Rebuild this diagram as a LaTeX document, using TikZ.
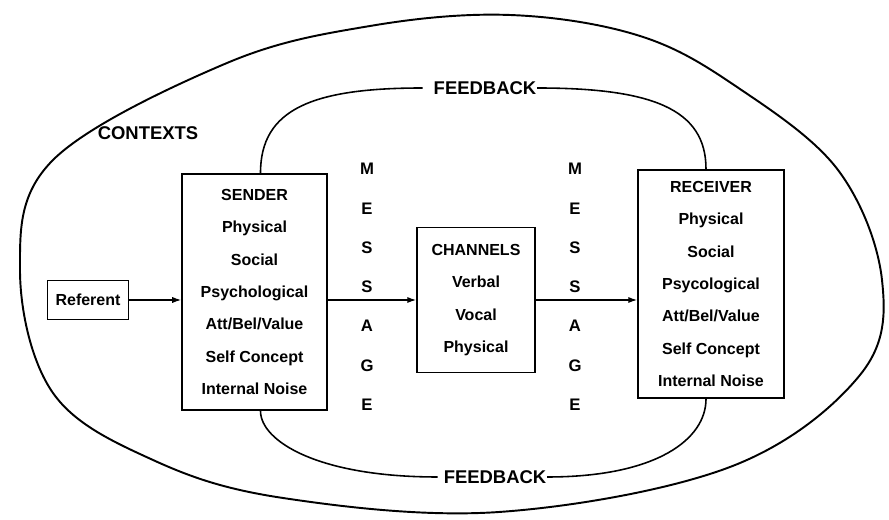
\documentclass[tikz,border=0pt]{standalone}
\usepackage{fontspec}
\setmainfont{Liberation Sans}
\usetikzlibrary{arrows.meta}

\begin{document}
\begin{tikzpicture}[
    box/.style={draw, line width=1.1pt, align=center, inner sep=0pt,
      font=\fontsize{9.1}{18.4}\selectfont\bfseries},
    loopline/.style={line width=0.9pt},
    flow/.style={line width=0.6pt, -{Latex[length=5pt,width=3.5pt]}},
    lbl/.style={font=\fontsize{10.5}{12}\selectfont\bfseries},
    letter/.style={font=\fontsize{9.5}{11}\selectfont\bfseries}]
  \useasboundingbox (0,0) rectangle (17.78,10.4);
  % contexts
  \draw[line width=1.1pt] plot[smooth cycle, tension=0.6] coordinates {
    (0.40,5.00) (1.06,2.54) (3.06,1.20) (5.66,0.44) (9.98,0.16)
    (14.60,1.06) (17.20,2.90) (17.64,4.80) (16.76,7.00) (14.74,8.66)
    (12.80,9.68) (10.20,10.10) (7.40,9.88) (4.54,9.14) (1.06,7.20)};
  \node[lbl] (contexts) at (2.96,7.74) {CONTEXTS};
  % boxes
  \node[box, minimum width=1.62cm, minimum height=0.78cm] (referent) at (1.76,4.40) {Referent};
  \node[box, minimum width=2.9cm, minimum height=4.72cm] (sender) at (5.09,4.56)
    {SENDER\\Physical\\Social\\Psychological\\Att/Bel/Value\\Self Concept\\Internal Noise};
  \node[box, minimum width=2.36cm, minimum height=2.9cm] (channels) at (9.52,4.40)
    {CHANNELS\\Verbal\\Vocal\\Physical};
  \node[box, minimum width=2.92cm, minimum height=4.56cm] (receiver) at (14.22,4.72)
    {RECEIVER\\Physical\\Social\\Psycological\\Att/Bel/Value\\Self Concept\\Internal Noise};
  % message
  \foreach \ch [count=\i from 0] in {M,E,S,S,A,G,E} {
    \node[letter] (msgl-\i) at (7.34,7.02-0.786*\i) {\ch};
    \node[letter] (msgr-\i) at (11.5,7.02-0.786*\i) {\ch};
  }
  \draw[flow] (referent.east) -- (referent.east -| sender.west);
  \draw[flow] (channels.west -| sender.east) -- (channels.west);
  \draw[flow] (channels.east) -- (channels.east -| receiver.west);
  % feedback
  \node[lbl] (fbtop) at (9.70,8.64) {FEEDBACK};
  \node[lbl] (fbbot) at (9.90,0.86) {FEEDBACK};
  \draw[loopline] ([xshift=0.12cm]sender.north) .. controls +(0,1.28) and +(-2.2,0) .. ([xshift=-0.1cm]fbtop.west);
  \draw[loopline] ([xshift=-3pt]fbtop.east) .. controls +(2.3,0) and +(0,1.2) .. ([xshift=-0.1cm]receiver.north);
  \draw[loopline] ([xshift=0.12cm]sender.south) .. controls +(0,-0.6) and +(-2.4,0) .. (fbbot.west);
  \draw[loopline] ([xshift=-3pt]fbbot.east) .. controls +(2.2,0) and +(0,-0.8) .. ([xshift=-0.1cm]receiver.south);
\end{tikzpicture}
\end{document}
